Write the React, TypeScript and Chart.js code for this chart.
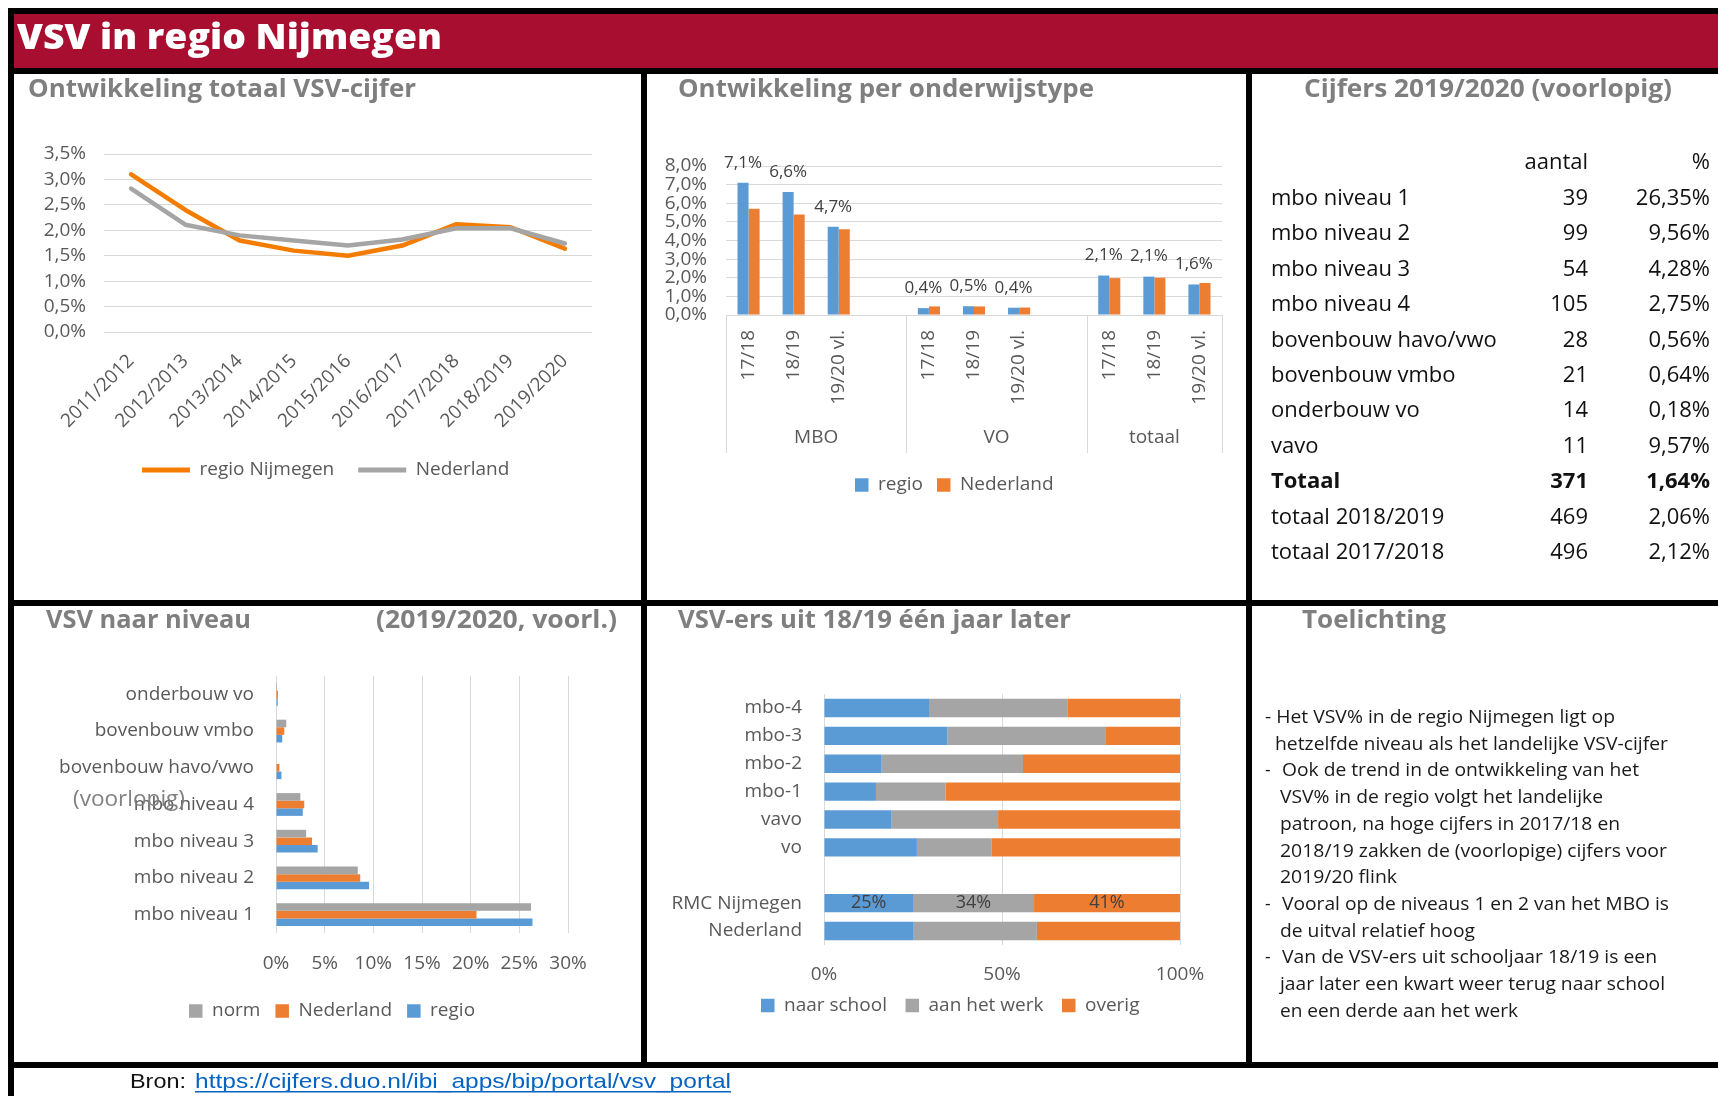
import React, { useEffect, useRef } from 'react';
import { Chart, registerables } from 'chart.js';

Chart.register(...registerables);

const FONT = '"Open Sans", "DejaVu Sans", sans-serif';
const INK = '#595959';
const GRID = '#d9d9d9';
const BLUE = '#5b9bd5';
const ORANGE = '#ed7d31';
const GRAY = '#a5a5a5';
const LINE_ORANGE = '#f47c00';
const TITLE_GRAY = '#7f7f7f';
const RED = '#a80e2f';
const LABEL_INK = '#404040';
const FS = 19;

Chart.defaults.font.family = FONT;
Chart.defaults.font.size = FS;
Chart.defaults.color = INK;

// ---------------- data ----------------
const years = ['2011/2012', '2012/2013', '2013/2014', '2014/2015', '2015/2016', '2016/2017', '2017/2018', '2018/2019', '2019/2020'];
const totalSeries = ['regio Nijmegen', 'Nederland'];
const regioTotal = [3.1, 2.4, 1.8, 1.6, 1.5, 1.7, 2.12, 2.06, 1.64];
const nlTotal = [2.82, 2.11, 1.9, 1.8, 1.7, 1.82, 2.04, 2.04, 1.74];

const typeGroups = ['MBO', 'VO', 'totaal'];
const typeGroupSizes = [4, 4, 3];
const typeYears = ['17/18', '18/19', '19/20 vl.', '', '17/18', '18/19', '19/20 vl.', '', '17/18', '18/19', '19/20 vl.'];
const typeSeries = ['regio', 'Nederland'];
const regioType = [7.1, 6.6, 4.74, null, 0.37, 0.47, 0.39, null, 2.12, 2.06, 1.64];
const nlType = [5.7, 5.4, 4.6, null, 0.46, 0.46, 0.4, null, 1.98, 2.0, 1.72];

const tableCols = ['aantal', '%'];
const tableRows = ['mbo niveau 1', 'mbo niveau 2', 'mbo niveau 3', 'mbo niveau 4', 'bovenbouw havo/vwo', 'bovenbouw vmbo', 'onderbouw vo', 'vavo', 'Totaal', 'totaal 2018/2019', 'totaal 2017/2018'];
const tableCounts = ['39', '99', '54', '105', '28', '21', '14', '11', '371', '469', '496'];
const tablePcts = ['26,35%', '9,56%', '4,28%', '2,75%', '0,56%', '0,64%', '0,18%', '9,57%', '1,64%', '2,06%', '2,12%'];
const tableBoldRow = 'Totaal';

const levels = ['onderbouw vo', 'bovenbouw vmbo', 'bovenbouw havo/vwo', 'mbo niveau 4', 'mbo niveau 3', 'mbo niveau 2', 'mbo niveau 1'];
const levelSeries = ['norm', 'Nederland', 'regio'];
const normLevel = [0.1, 1.05, 0.05, 2.5, 3.1, 8.4, 26.2];
const nlLevel = [0.2, 0.85, 0.35, 2.9, 3.7, 8.65, 20.6];
const regioLevel = [0.18, 0.64, 0.56, 2.75, 4.28, 9.56, 26.35];

const laterCats = ['mbo-4', 'mbo-3', 'mbo-2', 'mbo-1', 'vavo', 'vo', '', 'RMC Nijmegen', 'Nederland'];
const laterSeries = ['naar school', 'aan het werk', 'overig'];
const naarSchool = [29.5, 34.7, 16.2, 14.6, 19.0, 26.1, null, 25, 25.2];
const aanHetWerk = [39.0, 44.5, 39.7, 19.6, 29.9, 20.9, null, 34, 34.6];
const overig = [31.5, 20.8, 44.1, 65.8, 51.1, 53.0, null, 41, 40.2];
const labelledRow = 'RMC Nijmegen';

const notes = [
  '- Het VSV% in de regio Nijmegen ligt op',
  'hetzelfde niveau als het landelijke VSV-cijfer',
  'Ook de trend in de ontwikkeling van het',
  'VSV% in de regio volgt het landelijke',
  'patroon, na hoge cijfers in 2017/18 en',
  '2018/19 zakken de (voorlopige) cijfers voor',
  '2019/20 flink',
  'Vooral op de niveaus 1 en 2 van het MBO is',
  'de uitval relatief hoog',
  'Van de VSV-ers uit schooljaar 18/19 is een',
  'jaar later een kwart weer terug naar school',
  'en een derde aan het werk',
];
const noteBullet = [false, false, true, false, false, false, false, true, false, true, false, false];

const sourceLabel = 'Bron:';
const sourceUrl = 'https://cijfers.duo.nl/ibi_apps/bip/portal/vsv_portal';

// ---------------- helpers ----------------
const fmt1 = (v: number) => v.toFixed(1).replace('.', ',') + '%';

type Geo = {
  cx: number; cy: number; cb: number;
  L: number; R: number; T: number; B: number;
  lx: number; lp: number; bw: number; bh: number; lc: number;
  texts: string[];
};

type Lay = { W: number; H: number; padR: number; padB: number; padT: number; yW: number; xH: number; spacerW: number };

function computeLayout(g: Geo): Lay {
  const ctx = document.createElement('canvas').getContext('2d')!;
  ctx.font = `normal ${FS}px ${FONT}`;
  let lineW = 0;
  g.texts.forEach((t) => { lineW += g.bw + FS / 2 + ctx.measureText(t).width + g.lp; });
  const sum = 2 * g.lx - g.lp + lineW;
  let right = sum - g.cx;
  const spacerW = Math.max(0, right - g.R);
  right = Math.max(right, g.R);
  const W = Math.ceil(right - g.cx) + 1;
  const H = g.cb - g.cy;
  const itemH = Math.max(FS, g.bh);
  const padB = g.cb - 10 - itemH / 2 - g.lc;
  const legendTop = g.cb - padB - (itemH + g.lp + 10);
  return { W, H, padR: g.cx + W - right, padB, padT: g.T - g.cy, yW: g.L - g.cx, xH: legendTop - g.B, spacerW };
}

const spacer = (w: number) => ({
  type: 'linear',
  position: 'right',
  display: true,
  grid: { display: false, drawTicks: false },
  border: { display: false },
  ticks: { display: false },
  afterFit: (s: any) => { s.width = w; },
});

// fixed x-axis height; labels may extend beyond the box without being clipped
const fixHeight = (h: number) => (s: any) => {
  s.height = h;
  s._computeLabelArea = () => undefined;
};

function ChartPanel({ geo, build }: { geo: Geo; build: (lay: Lay) => any }) {
  const ref = useRef<HTMLCanvasElement>(null);
  useEffect(() => {
    const c = ref.current!;
    const lay = computeLayout(geo);
    c.width = lay.W;
    c.height = lay.H;
    c.style.width = lay.W + 'px';
    c.style.height = lay.H + 'px';
    const chart = new Chart(c, build(lay));
    return () => chart.destroy();
  }, []);
  return <canvas ref={ref} style={{ position: 'absolute', left: geo.cx, top: geo.cy, zIndex: 1 }} />;
}

const tickFont = { family: FONT, size: FS };

// ---------------- chart 1: line ----------------
const geo1: Geo = { cx: 14, cy: 110, cb: 490, L: 104, R: 592, T: 154, B: 332, lx: 142, lp: 24, bw: 48, bh: 5, lc: 470, texts: totalSeries };
const build1 = (lay: Lay) => ({
  type: 'line',
  data: {
    labels: years,
    datasets: [
      { label: totalSeries[0], data: regioTotal, borderColor: LINE_ORANGE, backgroundColor: LINE_ORANGE, borderWidth: 4.5, pointRadius: 0, tension: 0, order: 1, borderJoinStyle: 'round', borderCapStyle: 'round', xAxisID: 'x', yAxisID: 'y' },
      { label: totalSeries[1], data: nlTotal, borderColor: GRAY, backgroundColor: GRAY, borderWidth: 4.5, pointRadius: 0, tension: 0, order: 0, borderJoinStyle: 'round', borderCapStyle: 'round', xAxisID: 'x', yAxisID: 'y' },
    ],
  },
  options: {
    animation: false,
    responsive: false,
    devicePixelRatio: 1,
    layout: { padding: { left: 0, right: lay.padR, top: lay.padT, bottom: lay.padB } },
    plugins: {
      tooltip: { enabled: false },
      legend: {
        position: 'bottom',
        labels: {
          boxWidth: 48, boxHeight: 5, padding: 24, color: INK, font: tickFont,
          generateLabels: (chart: any) => chart.data.datasets.map((ds: any, i: number) => ({
            text: ds.label, fillStyle: ds.borderColor, strokeStyle: ds.borderColor, lineWidth: 0, hidden: false, datasetIndex: i, fontColor: INK,
          })),
        },
      },
    },
    scales: {
      x: {
        offset: true,
        grid: { display: false, drawTicks: false },
        border: { display: false },
        ticks: { color: INK, font: tickFont, minRotation: 45, maxRotation: 45, autoSkip: false, padding: 18 },
        afterFit: fixHeight(lay.xH),
      },
      y: {
        min: 0, max: 3.5,
        grid: { color: GRID, drawTicks: false, lineWidth: 1 },
        border: { display: false },
        ticks: { stepSize: 0.5, color: INK, font: tickFont, padding: 18, autoSkip: false, callback: (v: any) => fmt1(Number(v)) },
        afterFit: (s: any) => { s.width = lay.yW; },
      },
      sp: spacer(lay.spacerW),
    },
  },
});

// ---------------- chart 2: grouped bars ----------------
const groupPlugin = {
  id: 'groupAxis',
  afterDraw(chart: any) {
    const x = chart.scales.x;
    const ctx = chart.ctx;
    const half = (x.getPixelForValue(1) - x.getPixelForValue(0)) / 2;
    const top = chart.chartArea.bottom;
    const bottom = top + 138;
    const bounds = [x.getPixelForValue(0) - half];
    let idx = 0;
    typeGroupSizes.forEach((n) => { idx += n; bounds.push(x.getPixelForValue(idx - 1) + half); });
    ctx.save();
    ctx.strokeStyle = GRID;
    ctx.lineWidth = 1;
    bounds.forEach((b) => {
      const px = Math.round(b) + 0.5;
      ctx.beginPath();
      ctx.moveTo(px, top);
      ctx.lineTo(px, bottom);
      ctx.stroke();
    });
    ctx.fillStyle = INK;
    ctx.font = `normal ${FS}px ${FONT}`;
    ctx.textAlign = 'center';
    ctx.textBaseline = 'middle';
    typeGroups.forEach((g, i) => ctx.fillText(g, (bounds[i] + bounds[i + 1]) / 2, top + 123));
    ctx.restore();
  },
};

const regioLabelPlugin = {
  id: 'regioLabels',
  afterDatasetsDraw(chart: any) {
    const meta = chart.getDatasetMeta(0);
    const ctx = chart.ctx;
    ctx.save();
    ctx.font = `normal 17px ${FONT}`;
    ctx.fillStyle = LABEL_INK;
    ctx.textAlign = 'center';
    ctx.textBaseline = 'middle';
    meta.data.forEach((el: any, i: number) => {
      const v = regioType[i];
      if (v == null) return;
      ctx.fillText(fmt1(v), el.x, el.y - 20);
    });
    ctx.restore();
  },
};

const geo2: Geo = { cx: 650, cy: 126, cb: 510, L: 726, R: 1222, T: 166, B: 315, lx: 855, lp: 14, bw: 13.5, bh: 13.5, lc: 485, texts: typeSeries };
const build2 = (lay: Lay) => ({
  type: 'bar',
  data: {
    labels: typeYears,
    datasets: [
      { label: typeSeries[0], data: regioType, backgroundColor: BLUE, borderWidth: 0, categoryPercentage: 0.49, barPercentage: 1, xAxisID: 'x', yAxisID: 'y' },
      { label: typeSeries[1], data: nlType, backgroundColor: ORANGE, borderWidth: 0, categoryPercentage: 0.49, barPercentage: 1, xAxisID: 'x', yAxisID: 'y' },
    ],
  },
  options: {
    animation: false,
    responsive: false,
    devicePixelRatio: 1,
    layout: { padding: { left: 0, right: lay.padR, top: lay.padT, bottom: lay.padB } },
    plugins: {
      tooltip: { enabled: false },
      legend: { position: 'bottom', labels: { boxWidth: 13.5, boxHeight: 13.5, padding: 14, color: INK, font: tickFont } },
    },
    scales: {
      x: {
        grid: { display: false, drawTicks: false },
        border: { display: false },
        ticks: { color: INK, font: tickFont, minRotation: 90, maxRotation: 90, autoSkip: false, padding: 15 },
        afterFit: fixHeight(lay.xH),
      },
      y: {
        min: 0, max: 8,
        grid: { color: GRID, drawTicks: false },
        border: { display: false },
        ticks: { stepSize: 1, color: INK, font: tickFont, padding: 19, autoSkip: false, callback: (v: any) => fmt1(Number(v)) },
        afterFit: (s: any) => { s.width = lay.yW; },
      },
      sp: spacer(lay.spacerW),
    },
  },
  plugins: [groupPlugin, regioLabelPlugin],
});

// ---------------- chart 3: horizontal grouped bars ----------------
const geo3: Geo = { cx: 14, cy: 636, cb: 1045, L: 276, R: 568, T: 676, B: 933, lx: 189, lp: 15, bw: 13.5, bh: 13.5, lc: 1011, texts: levelSeries };
const build3 = (lay: Lay) => ({
  type: 'bar',
  data: {
    labels: levels,
    datasets: [
      { label: levelSeries[0], data: normLevel, backgroundColor: GRAY, borderWidth: 0, categoryPercentage: 0.62, barPercentage: 1, xAxisID: 'x', yAxisID: 'y' },
      { label: levelSeries[1], data: nlLevel, backgroundColor: ORANGE, borderWidth: 0, categoryPercentage: 0.62, barPercentage: 1, xAxisID: 'x', yAxisID: 'y' },
      { label: levelSeries[2], data: regioLevel, backgroundColor: BLUE, borderWidth: 0, categoryPercentage: 0.62, barPercentage: 1, xAxisID: 'x', yAxisID: 'y' },
    ],
  },
  options: {
    indexAxis: 'y',
    animation: false,
    responsive: false,
    devicePixelRatio: 1,
    layout: { padding: { left: 0, right: lay.padR, top: lay.padT, bottom: lay.padB } },
    plugins: {
      tooltip: { enabled: false },
      legend: { position: 'bottom', labels: { boxWidth: 13.5, boxHeight: 13.5, padding: 15, color: INK, font: tickFont } },
    },
    scales: {
      x: {
        type: 'linear', min: 0, max: 30,
        grid: { color: GRID, drawTicks: false },
        border: { display: false },
        ticks: { stepSize: 5, color: INK, font: tickFont, padding: 19, callback: (v: any) => `${v}%` },
        afterFit: fixHeight(lay.xH),
      },
      y: {
        type: 'category',
        grid: { display: false, drawTicks: false },
        border: { display: false },
        ticks: { color: INK, font: tickFont, padding: 22, autoSkip: false },
        afterFit: (s: any) => { s.width = lay.yW; },
      },
      sp: spacer(lay.spacerW),
    },
  },
});

// ---------------- chart 4: 100% stacked bars ----------------
const rowLabelPlugin = {
  id: 'rowLabels',
  afterDatasetsDraw(chart: any) {
    const idx = laterCats.indexOf(labelledRow);
    const ctx = chart.ctx;
    ctx.save();
    ctx.font = `normal 18px ${FONT}`;
    ctx.fillStyle = LABEL_INK;
    ctx.textAlign = 'center';
    ctx.textBaseline = 'middle';
    chart.data.datasets.forEach((ds: any, di: number) => {
      const el = chart.getDatasetMeta(di).data[idx];
      const v = ds.data[idx];
      if (!el || v == null) return;
      ctx.fillText(`${Math.round(v)}%`, (el.x + el.base) / 2, el.y);
    });
    ctx.restore();
  },
};

const geo4: Geo = { cx: 650, cy: 654, cb: 1050, L: 824, R: 1180, T: 694, B: 945, lx: 761, lp: 18.6, bw: 13.5, bh: 13.5, lc: 1005.5, texts: laterSeries };
const build4 = (lay: Lay) => ({
  type: 'bar',
  data: {
    labels: laterCats,
    datasets: [
      { label: laterSeries[0], data: naarSchool, backgroundColor: BLUE, borderWidth: 0, barPercentage: 0.66, categoryPercentage: 1, xAxisID: 'x', yAxisID: 'y' },
      { label: laterSeries[1], data: aanHetWerk, backgroundColor: GRAY, borderWidth: 0, barPercentage: 0.66, categoryPercentage: 1, xAxisID: 'x', yAxisID: 'y' },
      { label: laterSeries[2], data: overig, backgroundColor: ORANGE, borderWidth: 0, barPercentage: 0.66, categoryPercentage: 1, xAxisID: 'x', yAxisID: 'y' },
    ],
  },
  options: {
    indexAxis: 'y',
    animation: false,
    responsive: false,
    devicePixelRatio: 1,
    layout: { padding: { left: 0, right: lay.padR, top: lay.padT, bottom: lay.padB } },
    plugins: {
      tooltip: { enabled: false },
      legend: { position: 'bottom', labels: { boxWidth: 13.5, boxHeight: 13.5, padding: 18.6, color: INK, font: tickFont } },
    },
    scales: {
      x: {
        type: 'linear', min: 0, max: 100, stacked: true,
        grid: { color: GRID, drawTicks: false },
        border: { display: false },
        ticks: { stepSize: 50, color: INK, font: tickFont, padding: 18.6, callback: (v: any) => `${v}%` },
        afterFit: fixHeight(lay.xH),
      },
      y: {
        type: 'category', stacked: true,
        grid: { display: false, drawTicks: false },
        border: { display: false },
        ticks: { color: INK, font: tickFont, padding: 22, autoSkip: false },
        afterFit: (s: any) => { s.width = lay.yW; },
      },
      sp: spacer(lay.spacerW),
    },
  },
  plugins: [rowLabelPlugin],
});

// ---------------- static layer ----------------
const panelTitles = [
  { s: 'Ontwikkeling totaal VSV-cijfer', x: 28, y: 97, w: 388 },
  { s: 'Ontwikkeling per onderwijstype', x: 678, y: 97, w: 416 },
  { s: 'Cijfers 2019/2020 (voorlopig)', x: 1304, y: 97, w: 368 },
  { s: 'VSV naar niveau', x: 46, y: 628, w: 205 },
  { s: '(2019/2020, voorl.)', x: 376, y: 628, w: 241 },
  { s: 'VSV-ers uit 18/19 één jaar later', x: 678, y: 628, w: 393 },
  { s: 'Toelichting', x: 1302, y: 628, w: 144 },
];
const noteX = [1265, 1275, 1282, 1280, 1280, 1280, 1280, 1282, 1280, 1282, 1280, 1280];
const noteW = [350, 393, 357, 323, 340, 387, 117, 387, 195, 375, 385, 238];

function Overlay() {
  const black = '#000';
  return (
    <svg width={1718} height={1096} style={{ position: 'absolute', left: 0, top: 0, zIndex: 2, pointerEvents: 'none' }}>
      <rect x={14} y={14} width={1704} height={54} fill={RED} />
      <rect x={8} y={8} width={1710} height={6} fill={black} />
      <rect x={8} y={68} width={1710} height={6} fill={black} />
      <rect x={8} y={8} width={6} height={1088} fill={black} />
      <rect x={641} y={74} width={6} height={988} fill={black} />
      <rect x={1246} y={74} width={6} height={988} fill={black} />
      <rect x={14} y={600} width={1704} height={6} fill={black} />
      <rect x={8} y={1062} width={1710} height={6} fill={black} />

      <text x={17} y={49} fontFamily={FONT} fontWeight={800} fontSize={36} fill="#fff" textLength={425} lengthAdjust="spacingAndGlyphs">VSV in regio Nijmegen</text>

      {panelTitles.map((t, i) => (
        <text key={i} x={t.x} y={t.y} fontFamily={FONT} fontWeight={700} fontSize={25} fill={TITLE_GRAY} textLength={t.w} lengthAdjust="spacingAndGlyphs">{t.s}</text>
      ))}

      {/* table */}
      <text x={1588} y={169} textAnchor="end" fontFamily={FONT} fontSize={22} fill="#111">{tableCols[0]}</text>
      <text x={1710} y={169} textAnchor="end" fontFamily={FONT} fontSize={22} fill="#111">{tableCols[1]}</text>
      {tableRows.map((r, i) => {
        const y = 205 + i * 35.4;
        const fw = r === tableBoldRow ? 700 : 400;
        return (
          <g key={r} fontFamily={FONT} fontSize={22} fill="#111" fontWeight={fw}>
            <text x={1271} y={y}>{r}</text>
            <text x={1588} y={y} textAnchor="end">{tableCounts[i]}</text>
            <text x={1710} y={y} textAnchor="end">{tablePcts[i]}</text>
          </g>
        );
      })}

      {/* overlapping subtitle remnant */}
      <text x={73} y={806} fontFamily={FONT} fontSize={21} fill="#808080" textLength={112} lengthAdjust="spacingAndGlyphs">(voorlopig)</text>

      {/* notes */}
      {notes.map((n, i) => {
        const y = 723 + i * 26.7;
        return (
          <g key={i} fontFamily={FONT} fontSize={17.5} fill="#1a1a1a">
            {noteBullet[i] ? <text x={1265} y={y}>-</text> : null}
            <text x={noteX[i]} y={y} textLength={noteW[i]} lengthAdjust="spacingAndGlyphs">{n}</text>
          </g>
        );
      })}

      {/* source */}
      <text x={130} y={1088} fontFamily='"Liberation Sans", Arial, sans-serif' fontSize={21} fill="#111" textLength={56} lengthAdjust="spacingAndGlyphs">{sourceLabel}</text>
      <text x={195} y={1088} fontFamily='"Liberation Sans", Arial, sans-serif' fontSize={21} fill="#0563c1" textLength={536} lengthAdjust="spacingAndGlyphs">{sourceUrl}</text>
      <rect x={195} y={1091} width={536} height={1.5} fill="#0563c1" />
    </svg>
  );
}

export default function App() {
  return (
    <div style={{ position: 'absolute', left: 0, top: 0, width: 1718, height: 1096, background: '#fff', overflow: 'hidden' }}>
      <ChartPanel geo={geo1} build={build1} />
      <ChartPanel geo={geo2} build={build2} />
      <ChartPanel geo={geo3} build={build3} />
      <ChartPanel geo={geo4} build={build4} />
      <Overlay />
    </div>
  );
}
